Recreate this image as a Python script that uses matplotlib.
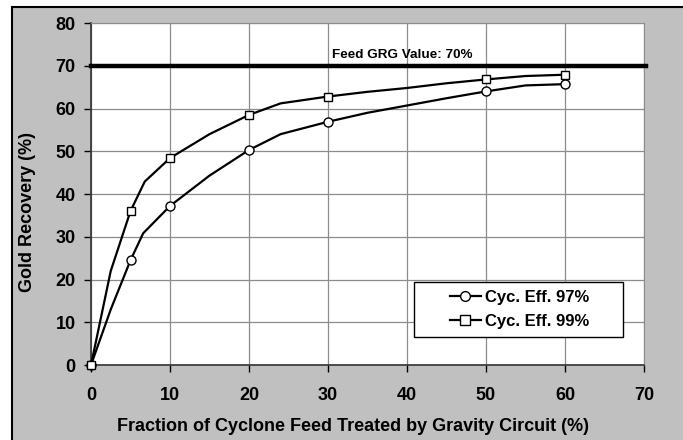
import numpy as np
import matplotlib.pyplot as plt
from matplotlib.patches import Rectangle

plt.rcParams['font.family'] = ['Liberation Sans', 'DejaVu Sans']
plt.rcParams['font.weight'] = 'bold'

# marker points
frac_pts = [0, 5, 10, 20, 30, 50, 60]
eff97_pts = [0, 24.5, 37.2, 50.3, 56.9, 64.0, 65.7]
eff99_pts = [0, 36.0, 48.4, 58.5, 62.8, 66.8, 67.9]

# the drawn lines carry extra (unmarked) points
frac97_line = [0, 2.5, 5, 6.6, 10, 15, 20, 24, 30, 35, 40, 45, 50, 55, 60]
eff97_line = [0, 13.0, 24.5, 30.8, 37.2, 44.3, 50.3, 54.0, 56.9, 59.0, 60.7, 62.4, 64.0, 65.4, 65.7]
frac99_line = [0, 2.5, 5, 6.8, 10, 15, 20, 24, 30, 35, 40, 45, 50, 55, 60]
eff99_line = [0, 22.0, 36.0, 42.9, 48.4, 54.0, 58.5, 61.2, 62.8, 63.9, 64.8, 65.9, 66.8, 67.6, 67.9]

feed_grg = 70

fig = plt.figure(figsize=(6.83, 4.40), dpi=100, facecolor='white')

# gray chart area with a black frame (cut off at right/bottom)
bg = fig.add_axes([0, 0, 1, 1], zorder=-10)
bg.axis('off')
bg.set_xlim(0, 683)
bg.set_ylim(440, 0)
bg.add_patch(Rectangle((12, 7), 700, 460, facecolor='#c0c0c0',
                       edgecolor='black', linewidth=1.5))

ax = fig.add_axes([91 / 683, 75 / 440, 553 / 683, 342 / 440], zorder=1)
ax.set_facecolor('white')

ax.axhline(feed_grg, color='black', lw=3.2, zorder=3, clip_on=False, xmax=1.004)
ax.text(39.4, 71.7, 'Feed GRG Value: 70%', fontsize=9.7, fontweight='bold',
        ha='center', va='baseline')

ax.plot(frac97_line, eff97_line, color='black', lw=1.6, zorder=4)
ax.plot(frac99_line, eff99_line, color='black', lw=1.6, zorder=4)
ax.plot(frac_pts, eff97_pts, ls='none', marker='o', ms=6.5, mfc='white',
        mec='black', mew=1, zorder=5, clip_on=False)
ax.plot(frac_pts, eff99_pts, ls='none', marker='s', ms=6.3, mfc='white',
        mec='black', mew=1, zorder=5, clip_on=False)

# legend: own frame drawn as a rectangle, entries centred inside it
ax.add_patch(Rectangle((0.584, 0.082), 0.378, 0.161, transform=ax.transAxes,
                       facecolor='white', edgecolor='black', lw=1, zorder=6))
h97, = ax.plot([], [], color='black', lw=1.6, marker='o', ms=7, mfc='white', mec='black', mew=1)
h99, = ax.plot([], [], color='black', lw=1.6, marker='s', ms=7, mfc='white', mec='black', mew=1)
leg = ax.legend([h97, h99], ['Cyc. Eff. 97%', 'Cyc. Eff. 99%'],
                loc='center', bbox_to_anchor=(0.775, 0.162),
                frameon=False, prop={'weight': 'bold', 'size': 12},
                handlelength=1.9, handletextpad=0.25, borderpad=0,
                labelspacing=0.55, borderaxespad=0)
leg.set_zorder(7)

ax.set_xlim(0, 70)
ax.set_ylim(0, 80)
ax.set_xticks(np.arange(0, 71, 10))
ax.set_yticks(np.arange(0, 81, 10))
ax.grid(True, color='#8c8c8c', lw=0.9)
ax.set_axisbelow(True)
ax.tick_params(direction='out', length=5, width=1, labelsize=13, pad=6)
for lbl in ax.get_xticklabels() + ax.get_yticklabels():
    lbl.set_fontweight('bold')
ax.tick_params(axis='x', pad=11)

for side in ['top', 'right']:
    ax.spines[side].set_color('#8c8c8c')
for side in ['left', 'bottom']:
    ax.spines[side].set_color('#333333')
    ax.spines[side].set_linewidth(1.2)

ax.set_xlabel('Fraction of Cyclone Feed Treated by Gravity Circuit (%)',
              fontsize=13, fontweight='bold', va='center')
ax.xaxis.set_label_coords(0.473, -0.181)
ax.set_ylabel('Gold Recovery (%)', fontsize=13, fontweight='bold', va='center')
ax.yaxis.set_label_coords(-0.115, 0.446)

fig.savefig('out.png', dpi=100, facecolor=fig.get_facecolor())
